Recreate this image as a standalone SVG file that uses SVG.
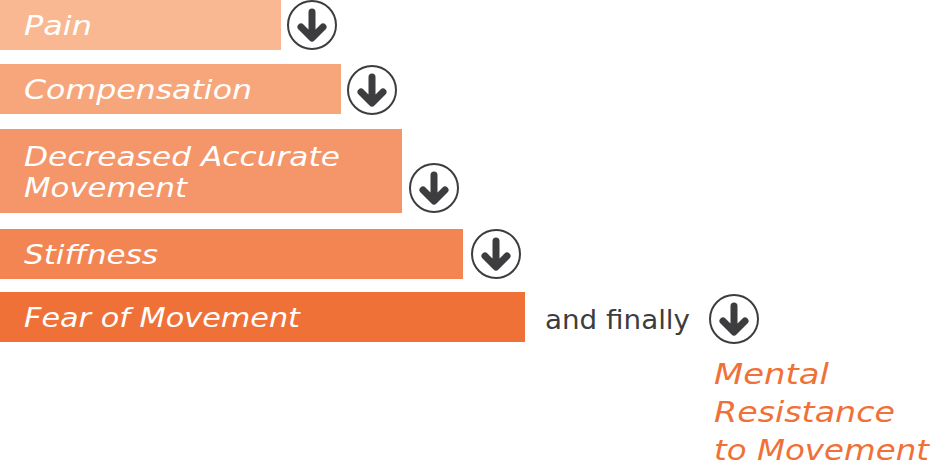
<svg xmlns="http://www.w3.org/2000/svg" width="931" height="471" viewBox="0 0 931 471">
<style>
.t{font-family:"DejaVu Sans",sans-serif;font-style:italic;font-size:27px;fill:#fff}
.o{font-family:"DejaVu Sans",sans-serif;font-style:italic;font-size:29px;fill:#f07138}
.c{fill:#fff;stroke:#3d3d3f;stroke-width:2}
.a{fill:none;stroke:#3d3d3f;stroke-width:7;stroke-linecap:round;stroke-linejoin:round}
</style>
<defs>
<g id="ic"><circle class="c" r="24"/><path class="a" d="M0,-13V12M-11,2L0,13L11,2"/></g>
</defs>
<rect width="931" height="471" fill="#fff"/>
<g id="n1"><rect x="0" y="0" width="281" height="50" fill="#f9b891"/><text class="t" x="24" y="35" textLength="68" lengthAdjust="spacingAndGlyphs">Pain</text></g>
<g id="n2"><rect x="0" y="64" width="341" height="50" fill="#f7a67c"/><text class="t" x="24" y="99" textLength="228" lengthAdjust="spacingAndGlyphs">Compensation</text></g>
<g id="n3"><rect x="0" y="129" width="402" height="84" fill="#f5966a"/><text class="t" x="24" y="166" textLength="316" lengthAdjust="spacingAndGlyphs">Decreased Accurate</text><text class="t" x="24" y="197" textLength="163" lengthAdjust="spacingAndGlyphs">Movement</text></g>
<g id="n4"><rect x="0" y="229" width="463" height="50" fill="#f38552"/><text class="t" x="24" y="264" textLength="134" lengthAdjust="spacingAndGlyphs">Stiffness</text></g>
<g id="n5"><rect x="0" y="292" width="525" height="50" fill="#f07138"/><text class="t" x="24" y="327" textLength="276" lengthAdjust="spacingAndGlyphs">Fear of Movement</text></g>
<g id="connectors">
<use href="#ic" x="312" y="25"/>
<use href="#ic" x="372" y="90"/>
<use href="#ic" x="434" y="188"/>
<use href="#ic" x="496" y="254"/>
<use href="#ic" x="734" y="319"/>
<text x="545" y="329" font-family="DejaVu Sans,sans-serif" font-size="26" fill="#3d3d3f" textLength="145" lengthAdjust="spacingAndGlyphs">and finally</text>
</g>
<g id="n6"><text class="o" x="714" y="384" textLength="115" lengthAdjust="spacingAndGlyphs">Mental</text><text class="o" x="714" y="422" textLength="181" lengthAdjust="spacingAndGlyphs">Resistance</text><text class="o" x="714" y="460" textLength="215" lengthAdjust="spacingAndGlyphs">to Movement</text></g>
</svg>
